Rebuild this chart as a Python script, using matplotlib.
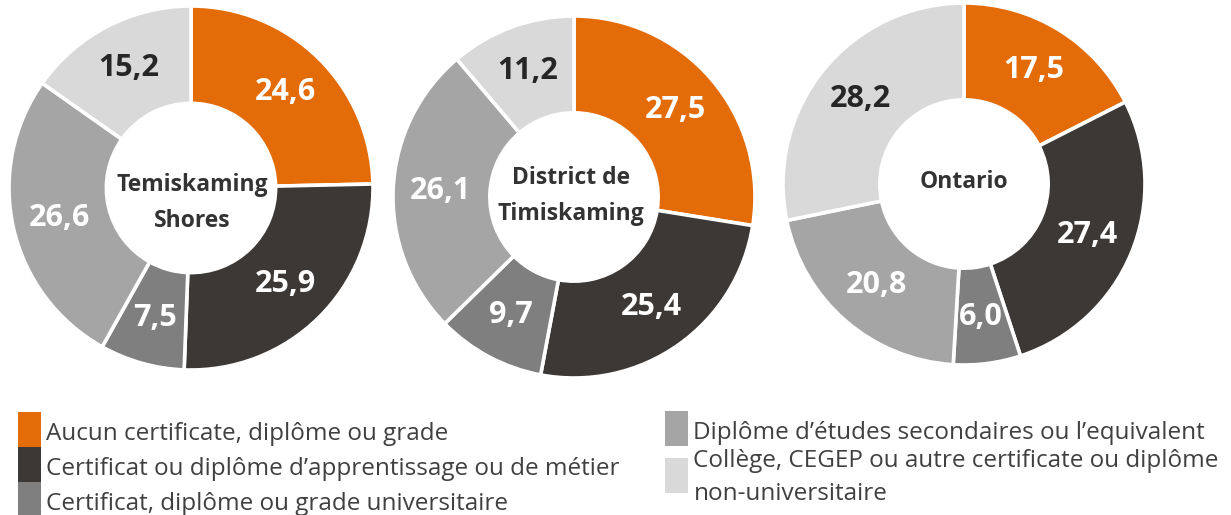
import matplotlib
matplotlib.use("Agg")
import matplotlib.pyplot as plt
from matplotlib.patches import Patch
from matplotlib.transforms import Affine2D
import numpy as np

plt.rcParams['font.family'] = ['Open Sans', 'DejaVu Sans']

# ---------------- data ----------------
categories = [
    "Aucun certificate, diplôme ou grade",
    "Certificat ou diplôme d’apprentissage ou de métier",
    "Certificat, diplôme ou grade universitaire",
    "Diplôme d’études secondaires ou l’equivalent",
    "Collège, CEGEP ou autre certificate ou diplôme\nnon-universitaire",
]
regions = ["Temiskaming\nShores", "District de\nTimiskaming", "Ontario"]
temiskaming_shores = [24.6, 25.9, 7.5, 26.6, 15.2]
district_timiskaming = [27.5, 25.4, 9.7, 26.1, 11.2]
ontario = [17.5, 27.4, 6.0, 20.8, 28.2]
series = [temiskaming_shores, district_timiskaming, ontario]

# ---------------- style ----------------
colors = ["#E36C09", "#3B3836", "#7F7F7F", "#A5A5A5", "#D9D9D9"]
value_colors = ["white", "white", "white", "white", "#262626"]
center_color = "#333333"
legend_color = "#404040"

W, H, DPI = 1231, 515, 100
fig = plt.figure(figsize=(W / DPI, H / DPI), dpi=DPI)
fig.patch.set_facecolor("white")

# layout (pixels)
centers = [(191, 188), (574, 197), (964, 184)]
radii = [182, 181, 181]
# (x, baseline of last line)
center_text_pos = [(192, 227), (571, 220), (964, 188)]


def fmt(v):
    return f"{v:.1f}".replace(".", ",")


for vals, name, (cx, cy), R, (tx, ty) in zip(series, regions, centers, radii, center_text_pos):
    ax = fig.add_axes([(cx - R) / W, 1 - (cy + R) / H, 2 * R / W, 2 * R / H])
    wedges, _ = ax.pie(
        vals, colors=colors, startangle=90, counterclock=False, radius=1,
        wedgeprops=dict(width=0.535, edgecolor="white", linewidth=2.6),
    )
    ax.set_xlim(-1, 1)
    ax.set_ylim(-1, 1)
    ax.set_aspect("equal")
    ax.axis("off")
    for w, v, tc in zip(wedges, vals, value_colors):
        ang = np.deg2rad((w.theta1 + w.theta2) / 2)
        ax.text(0.74 * np.cos(ang), 0.74 * np.sin(ang), fmt(v), ha="center", va="center",
                fontsize=22, fontweight="bold", color=tc)
    fig.text(tx / W, 1 - ty / H, name, ha="center", va="baseline", multialignment="center",
             fontsize=16.5, fontweight="bold", color=center_color, linespacing=1.64)

# ---------------- legends ----------------
fs = 17.5
fs_px = fs * DPI / 72
patch_h = 35.0
hh = (patch_h / fs_px - 0.245) / 0.65   # legend subtracts a heuristic descent
handles = [Patch(facecolor=c, edgecolor="none") for c in colors]
common = dict(loc="upper left", bbox_transform=fig.transFigure, borderpad=0, borderaxespad=0,
              frameon=False, handlelength=23 / fs_px, handleheight=hh,
              handletextpad=5.5 / fs_px, labelspacing=0, fontsize=fs, labelcolor=legend_color)
leg1 = fig.legend(handles[:3], categories[:3], bbox_to_anchor=(18 / W, 1 - 412 / H), **common)
leg2 = fig.legend(handles[3:], categories[3:], bbox_to_anchor=(665 / W, 1 - 411 / H), **common)
for t in leg2.get_texts():
    t.set_linespacing(1.5)
for leg in (leg1, leg2):
    for t in leg.get_texts():
        t.set_transform(t.get_transform() + Affine2D().translate(0, -3))

fig.savefig("out.png", dpi=DPI, facecolor="white")
